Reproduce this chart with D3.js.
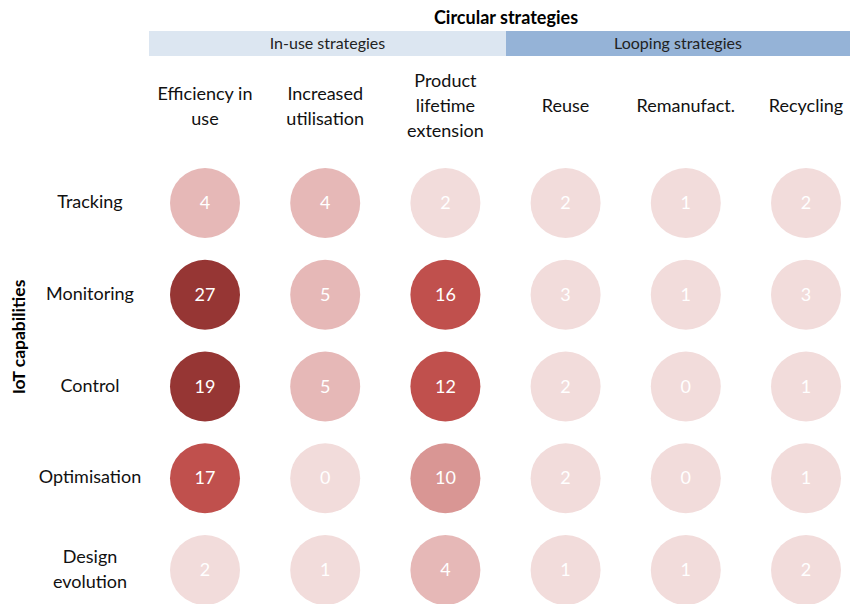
<!DOCTYPE html>
<html><head><meta charset="utf-8">
<script src="https://cdn.jsdelivr.net/npm/d3@7"></script>
<style>body{margin:0;background:#fff;}svg{display:block;font-family:Lato,"Open Sans",sans-serif;}</style>
</head><body>
<script>
const strategies = ["Efficiency in\nuse","Increased\nutilisation","Product\nlifetime\nextension","Reuse","Remanufact.","Recycling"];
const capabilities = ["Tracking","Monitoring","Control","Optimisation","Design\nevolution"];
const groups = [{name:"In-use strategies", from:0, to:2},{name:"Looping strategies", from:3, to:5}];
const values = [
  [4,4,2,2,1,2],
  [27,5,16,3,1,3],
  [19,5,12,2,0,1],
  [17,0,10,2,0,1],
  [2,1,4,1,1,2]
];
const W=850,H=604;
const svg=d3.select("body").append("svg").attr("width",W).attr("height",H);
const x=d3.scalePoint().domain(d3.range(strategies.length)).range([205,806]);
const y=d3.scalePoint().domain(d3.range(capabilities.length)).range([203,570]);
const color=d3.scaleThreshold().domain([4,10,12,18]).range(["#f2dcdb","#e6b8b7","#d99694","#c0504d","#963634"]);
const groupFill=["#dce6f1","#95b3d7"];
svg.append("text").attr("x",506).attr("y",24).attr("text-anchor","middle").attr("font-weight","bold").attr("font-size",18).attr("fill","#000").text("Circular strategies");
const bandX0=[149,506], bandX1=[506,850];
groups.forEach((g,i)=>{
  svg.append("rect").attr("x",bandX0[i]).attr("y",31).attr("width",bandX1[i]-bandX0[i]).attr("height",25).attr("fill",groupFill[i]);
  svg.append("text").attr("x",(bandX0[i]+bandX1[i])/2).attr("y",49).attr("text-anchor","middle").attr("font-size",16).attr("fill","#222").text(g.name);
});
strategies.forEach((s,i)=>{
  const lines=s.split("\n");
  const t=svg.append("text").attr("text-anchor","middle").attr("font-size",18).attr("fill","#111");
  const lh=25, cy=106;
  lines.forEach((l,k)=>{
    t.append("tspan").attr("x",x(i)).attr("y",cy+(k-(lines.length-1)/2)*lh+6).text(l);
  });
});
capabilities.forEach((c,j)=>{
  const lines=c.split("\n");
  const t=svg.append("text").attr("text-anchor","middle").attr("font-size",18).attr("fill","#111");
  lines.forEach((l,k)=>{
    t.append("tspan").attr("x",90).attr("y",y(j)-1+(k-(lines.length-1)/2)*25+6).text(l);
  });
});
svg.append("text").attr("transform","translate(25,337) rotate(-90)").attr("text-anchor","middle").attr("font-weight","bold").attr("font-size",17.5).text("IoT capabilities");
const cells=[];
values.forEach((row,j)=>row.forEach((v,i)=>cells.push({i,j,v})));
const g=svg.append("g");
g.selectAll("circle").data(cells).join("circle")
  .attr("cx",d=>x(d.i)).attr("cy",d=>y(d.j)).attr("r",35).attr("fill",d=>color(d.v));
g.selectAll("text").data(cells).join("text")
  .attr("x",d=>x(d.i)).attr("y",d=>y(d.j)+6).attr("text-anchor","middle").attr("font-size",18).attr("fill","#fff").text(d=>d.v);
</script>
</body></html>
